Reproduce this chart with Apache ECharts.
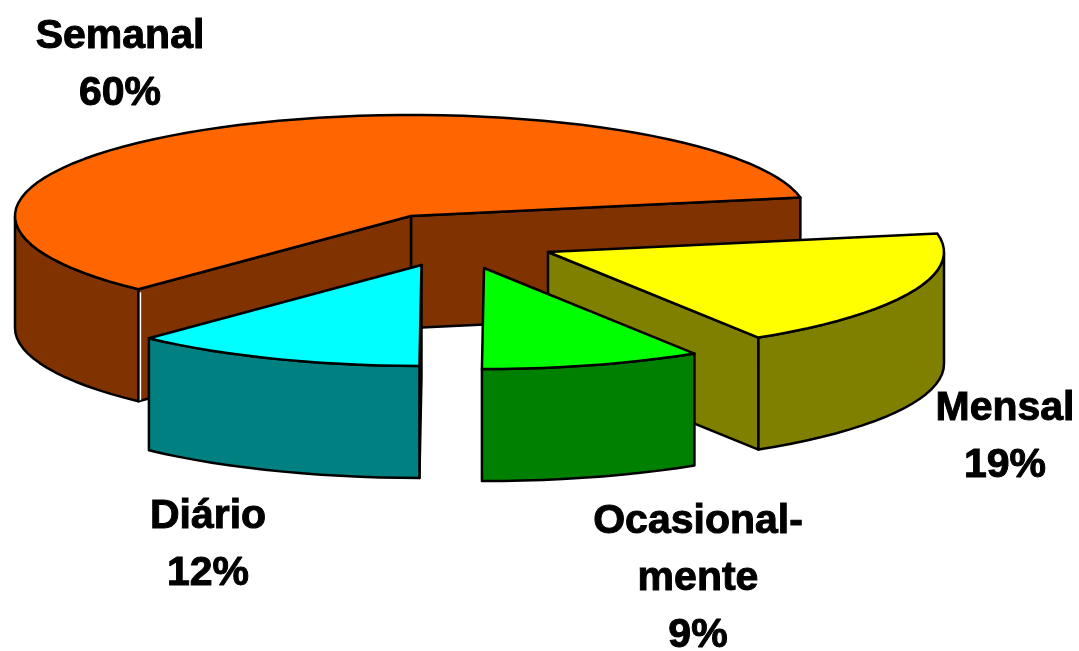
<!DOCTYPE html>
<html><head><meta charset="utf-8">
<style>html,body{margin:0;padding:0;background:#fff}#c{width:1079px;height:651px}</style>
<script src="https://cdn.jsdelivr.net/npm/echarts@6/dist/echarts.min.js"></script>
</head><body><div id="c"></div>
<script>
// Data
const categories = ['Semanal', 'Mensal', 'Ocasional-\nmente', 'Diário'];
const values = [60, 19, 9, 12];
// Styles
const topColors = ['#FF6600', '#FFFF00', '#00FF00', '#00FFFF'];
const sideColors = ['#803300', '#808000', '#008000', '#008080'];
// Layout of the drawing
const centerX = 411, centerY = 216, radiusX = 396, radiusY = 101, depth = 112, startAngle = 226.5;
const explodeX = [0, 137, 73, 10.5];
const explodeY = [0, 36, 52, 49];
const labelX = [120, 1005, 698, 208];
const labelY = [65, 437, 579, 545];

const total = values.reduce((a, b) => a + b, 0);
const rad = d => d * Math.PI / 180;
const stroke = { stroke: '#000', lineWidth: 2.5, lineJoin: 'round' };

function arc(cx, cy, from, to) {
  const n = Math.max(2, Math.ceil(Math.abs(to - from) / 3)), pts = [];
  for (let k = 0; k <= n; k++) {
    const t = rad(from + (to - from) * k / n);
    pts.push([cx + radiusX * Math.cos(t), cy - radiusY * Math.sin(t)]);
  }
  return pts;
}
function poly(points, fill) {
  return { type: 'polygon', shape: { points }, style: Object.assign({ fill }, stroke) };
}
function face(cx, cy, t, fill) {
  const p = arc(cx, cy, t, t)[0];
  return poly([[cx, cy], p, [p[0], p[1] + depth], [cx, cy + depth]], fill);
}
function renderItem(params, api) {
  const i = params.dataIndex, v = api.value(0);
  let before = 0;
  for (let k = 0; k < i; k++) before += values[k];
  const hi = startAngle - before / total * 360;     // slices run clockwise
  const lo = hi - v / total * 360;
  const cx = centerX + explodeX[i], cy = centerY + explodeY[i];
  const children = [];
  // cut faces turned to the viewer
  if (-Math.cos(rad(lo)) < 0) children.push(face(cx, cy, lo, sideColors[i]));
  if (Math.cos(rad(hi)) < 0) children.push(face(cx, cy, hi, sideColors[i]));
  // front part of the outer wall
  for (let k = -1; k <= 1; k++) {
    const a = Math.max(lo, 180 + 360 * k), b = Math.min(hi, 360 + 360 * k);
    if (b > a) {
      const upper = arc(cx, cy, a, b);
      const lower = upper.map(p => [p[0], p[1] + depth]).reverse();
      children.push(poly(upper.concat(lower), sideColors[i]));
      if (i === 0) {
        // thin light seam where the wall meets the cut face
        const e = upper[upper.length - 1];
        children.push({ type: 'line', shape: { x1: e[0] + 2, y1: e[1] + 3, x2: e[0] + 2, y2: e[1] + depth - 1 }, style: { stroke: '#fff', lineWidth: 1.5 } });
      }
    }
  }
  // top
  children.push(poly([[cx, cy]].concat(arc(cx, cy, lo, hi)), topColors[i]));
  // label
  children.push({
    type: 'text', z2: 10,
    style: {
      x: labelX[i], y: labelY[i], align: 'center', verticalAlign: 'middle',
      text: categories[i] + '\n' + Math.round(v / total * 100) + '%',
      font: 'bold 41px "Liberation Sans", Arial, sans-serif', lineHeight: 57, fill: '#000',
      stroke: '#000', lineWidth: 1
    }
  });
  return { type: 'group', children };
}
const chart = echarts.init(document.getElementById('c'), null, { renderer: 'canvas' });
chart.setOption({
  animation: false,
  backgroundColor: '#fff',
  series: [{
    type: 'custom', coordinateSystem: 'none', renderItem,
    data: values.map((v, i) => ({ name: categories[i], value: [v] }))
  }]
});
</script></body></html>
